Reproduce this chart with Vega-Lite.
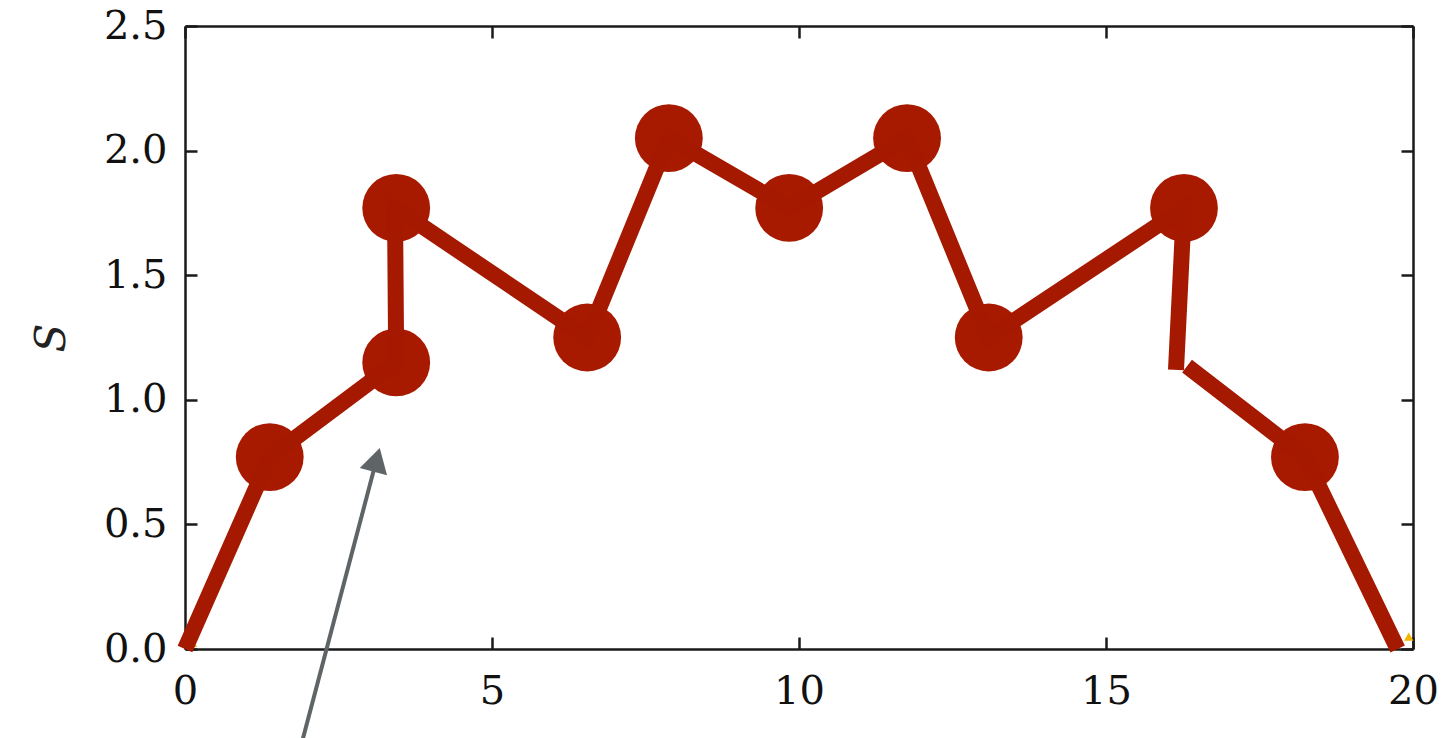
{
  "$schema": "https://vega.github.io/schema/vega-lite/v6.json",
  "width": 1228,
  "height": 623,
  "autosize": {"type": "none"},
  "padding": {"left": 185, "top": 26, "right": 36, "bottom": 89},
  "background": "#ffffff",
  "config": {
    "view": {"stroke": null},
    "axis": {
      "domainColor": "#1a1a1a",
      "domainWidth": 2.5,
      "tickColor": "#1a1a1a",
      "tickWidth": 2.5,
      "tickSize": -12,
      "grid": false,
      "labelFont": "DejaVu Serif",
      "labelFontSize": 40,
      "labelColor": "#111111",
      "titleFont": "DejaVu Serif",
      "titleFontStyle": "italic",
      "titleFontWeight": "normal",
      "titleFontSize": 42,
      "titleColor": "#222222"
    }
  },
  "datasets": {
    "curve": [
      {"x": 0, "y": 0, "seg": "a", "ord": 1},
      {"x": 1.38, "y": 0.77, "seg": "a", "ord": 2},
      {"x": 3.44, "y": 1.15, "seg": "a", "ord": 3},
      {"x": 3.42, "y": 1.77, "seg": "a", "ord": 4},
      {"x": 6.55, "y": 1.25, "seg": "a", "ord": 5},
      {"x": 7.88, "y": 2.05, "seg": "a", "ord": 6},
      {"x": 9.84, "y": 1.77, "seg": "a", "ord": 7},
      {"x": 11.76, "y": 2.05, "seg": "a", "ord": 8},
      {"x": 13.09, "y": 1.25, "seg": "a", "ord": 9},
      {"x": 16.27, "y": 1.77, "seg": "a", "ord": 10},
      {"x": 16.14, "y": 1.12, "seg": "a", "ord": 11},
      {"x": 16.32, "y": 1.135, "seg": "b", "ord": 1},
      {"x": 18.24, "y": 0.77, "seg": "b", "ord": 2},
      {"x": 19.75, "y": 0.0, "seg": "b", "ord": 3}
    ],
    "points": [
      {"x": 1.38, "y": 0.77},
      {"x": 3.44, "y": 1.15},
      {"x": 3.44, "y": 1.77},
      {"x": 6.55, "y": 1.25},
      {"x": 7.88, "y": 2.05},
      {"x": 9.84, "y": 1.77},
      {"x": 11.76, "y": 2.05},
      {"x": 13.09, "y": 1.25},
      {"x": 16.27, "y": 1.77},
      {"x": 18.24, "y": 0.77}
    ],
    "arrow": [
      {"x": 1.92, "y": -0.36, "ord": 1},
      {"x": 3.12, "y": 0.76, "ord": 2}
    ],
    "head": [
      {"x": 3.12, "y": 0.759}
    ],
    "corners": [
      {"x": 0.12, "y": 0.025},
      {"x": 19.93, "y": 0.05}
    ]
  },
  "layer": [
    {
      "data": {"name": "corners"},
      "mark": {"type": "point", "shape": "triangle-up", "filled": true, "size": 90, "color": "#f5b400", "opacity": 1},
      "encoding": {
        "x": {"field": "x", "type": "quantitative", "scale": {"domain": [0, 20], "nice": false, "zero": false},
              "axis": {"orient": "bottom", "values": [0, 5, 10, 15, 20], "labelPadding": 34, "title": null, "labelFlush": false}},
        "y": {"field": "y", "type": "quantitative", "scale": {"domain": [0, 2.5], "nice": false, "zero": false},
              "axis": {"orient": "left", "values": [0, 0.5, 1, 1.5, 2, 2.5], "format": ".1f", "labelPadding": 30, "title": "S", "titlePadding": 30, "labelFlush": false}}
      }
    },
    {
      "data": {"name": "points"},
      "mark": {"type": "circle", "size": 4600, "color": "#a81a00", "opacity": 1},
      "encoding": {
        "x": {"field": "x", "type": "quantitative",
              "axis": {"orient": "top", "values": [0, 5, 10, 15, 20], "labels": false, "title": null}},
        "y": {"field": "y", "type": "quantitative",
              "axis": {"orient": "right", "values": [0, 0.5, 1, 1.5, 2, 2.5], "labels": false, "title": null}}
      }
    },
    {
      "data": {"name": "curve"},
      "mark": {"type": "line", "strokeWidth": 16, "strokeCap": "butt", "strokeJoin": "miter", "color": "#a51900"},
      "encoding": {
        "x": {"field": "x", "type": "quantitative", "axis": null},
        "y": {"field": "y", "type": "quantitative", "axis": null},
        "detail": {"field": "seg"},
        "order": {"field": "ord"}
      }
    },
    {
      "data": {"name": "arrow"},
      "mark": {"type": "line", "strokeWidth": 4, "color": "#5f6566", "clip": false},
      "encoding": {
        "x": {"field": "x", "type": "quantitative", "axis": null},
        "y": {"field": "y", "type": "quantitative", "axis": null},
        "order": {"field": "ord"}
      }
    },
    {
      "data": {"name": "head"},
      "mark": {"type": "point", "shape": "triangle-up", "filled": true, "size": 800, "angle": 15, "color": "#5f6566", "opacity": 1},
      "encoding": {
        "x": {"field": "x", "type": "quantitative", "axis": null},
        "y": {"field": "y", "type": "quantitative", "axis": null}
      }
    }
  ],
  "resolve": {"axis": {"x": "independent", "y": "independent"}}
}
